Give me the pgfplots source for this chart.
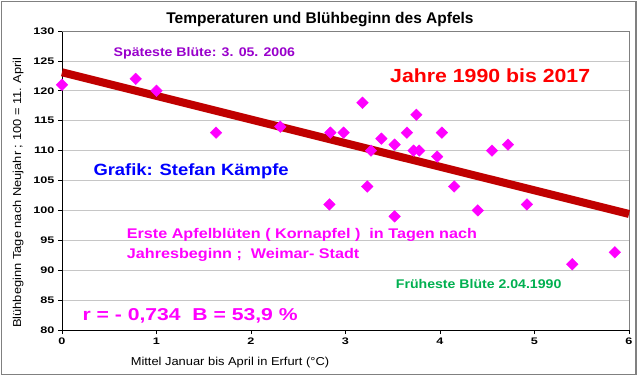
\documentclass[border=0pt]{standalone}
\usepackage{pgfplots}
\pgfplotsset{compat=1.18}
\usepackage{graphicx}
\usepackage{fontspec}
\setmainfont{Liberation Sans}
\newfontfamily\tickfont[FakeStretch=1.33]{Liberation Sans}
\newfontfamily\labfont[FakeStretch=1.12]{Liberation Sans}
\definecolor{trend}{RGB}{192,0,0}
\definecolor{mag}{RGB}{255,0,255}
\definecolor{purp}{RGB}{153,0,204}
\definecolor{grn}{RGB}{0,176,80}
\definecolor{frame}{RGB}{128,128,128}
\begin{document}
\begin{tikzpicture}[x=1pt,y=1pt]
\useasboundingbox (0,0) rectangle (640,376);
\fill[white] (0,0) rectangle (640,376);
\draw[frame, line width=1.5pt] (1.5,1.5) rectangle (636,374.5);
\begin{axis}[
  at={(62pt,46pt)}, anchor=south west,
  scale only axis, width=567pt, height=299pt,
  xmin=0, xmax=6, ymin=80, ymax=130,
  xtick={0,1,2,3,4,5,6}, ytick={80,85,90,95,100,105,110,115,120,125,130},
  axis x line*=bottom, axis y line*=left,
  axis line style={-, black, line width=1pt},
  ymajorgrids, grid style={draw=gray!45, line width=0.8pt},
  tick align=outside, major tick length=4pt,
  tick style={black, line width=0.8pt},
  /pgf/number format/assume math mode=true,
  ticklabel style={font=\tickfont\bfseries\fontsize{9.5}{10}\selectfont},
  clip=false,
]
\draw[frame, line width=0.8pt] (rel axis cs:0,1) -- (rel axis cs:1,1) -- (rel axis cs:1,0);
\addplot[only marks, mark=square*, mark size=4.1pt, mark options={rotate=45, fill=mag, draw=mag}]
coordinates {
(0,121) (0.78,122) (1.0,120) (1.63,113) (2.31,114) (2.83,101) (2.84,113)
(2.98,113) (3.18,118) (3.23,104) (3.27,110) (3.38,112) (3.52,111) (3.52,99)
(3.65,113) (3.72,110) (3.75,116) (3.78,110) (3.97,109) (4.02,113) (4.15,104)
(4.40,100) (4.55,110) (4.72,111) (4.92,101) (5.40,91) (5.85,93)
};
\addplot[trend, line width=8pt] coordinates {(0,123.1) (6,99.4)};
\end{axis}
% title and axis labels
\node[anchor=base, inner sep=0] at (320,352.7) {\bfseries\fontsize{15.5}{17}\selectfont Temperaturen und Blühbeginn des Apfels};
\node[anchor=base, inner sep=0] at (230,11) {\labfont\fontsize{11.5}{13}\selectfont Mittel Januar bis April in Erfurt (°C)};
\node[anchor=base, inner sep=0, rotate=90] at (21,183.5) {\labfont\fontsize{11.5}{13}\selectfont Blühbeginn Tage nach Neujahr ; 100 = 11. April};
% annotations
\node[anchor=base west, inner sep=0, text=purp] at (113.5,319.5) {\bfseries\fontsize{12.5}{14}\selectfont\scalebox{1.13}[1]{Späteste Blüte: 3. 05. 2006}};
\node[anchor=base west, inner sep=0, text=red] at (390,293.3) {\bfseries\fontsize{19}{21}\selectfont\scalebox{1.12}[1]{Jahre 1990 bis 2017}};
\node[anchor=base west, inner sep=0, text=blue] at (93.3,201) {\bfseries\fontsize{16.3}{18}\selectfont\scalebox{1.13}[1]{Grafik: Stefan Kämpfe}};
\node[anchor=base west, inner sep=0, text=mag] at (126.7,137.7) {\bfseries\fontsize{14}{16}\selectfont\scalebox{1.155}[1]{Erste Apfelblüten ( Kornapfel )\ \ in Tagen nach}};
\node[anchor=base west, inner sep=0, text=mag] at (126.7,117.7) {\bfseries\fontsize{14}{16}\selectfont\scalebox{1.155}[1]{Jahresbeginn ;\ \ Weimar- Stadt}};
\node[anchor=base west, inner sep=0, text=grn] at (395.7,87.7) {\bfseries\fontsize{12.6}{14}\selectfont\scalebox{1.12}[1]{Früheste Blüte 2.04.1990}};
\node[anchor=base west, inner sep=0, text=mag] at (82.3,55.3) {\bfseries\fontsize{17.2}{19}\selectfont\scalebox{1.23}[1]{r = - 0,734\ \ B = 53,9 \%}};
\end{tikzpicture}
\end{document}
